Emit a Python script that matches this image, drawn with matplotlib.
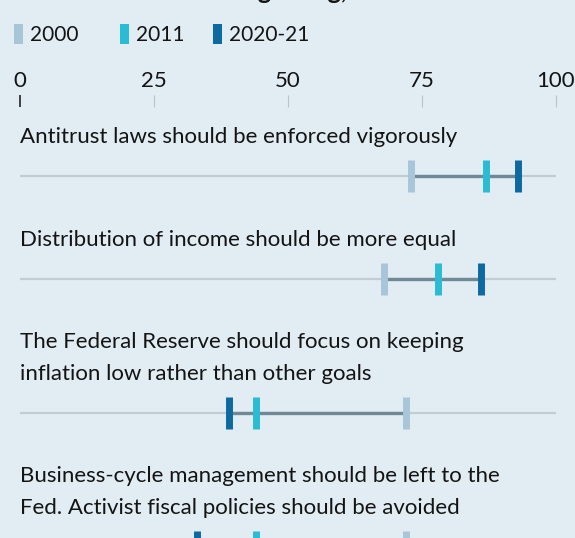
import matplotlib.pyplot as plt
from matplotlib.patches import Rectangle

# data (% of economists agreeing)
statements = [
    "Antitrust laws should be enforced vigorously",
    "Distribution of income should be more equal",
    "The Federal Reserve should focus on keeping\ninflation low rather than other goals",
    "Business-cycle management should be left to the\nFed. Activist fiscal policies should be avoided",
]
years = ["2000", "2011", "2020-21"]
agree_2000 = [73, 68, 72, 72]
agree_2011 = [87, 78, 44, 44]
agree_2021 = [93, 86, 39, 33]
ticks = [0, 25, 50, 75, 100]

colors = ["#a9c6d9", "#2bbcd5", "#0e69a1"]
bg = "#e1ecf3"
txt = "#141414"

plt.rcParams['font.family'] = ['Lato', 'DejaVu Sans']

W, H = 575, 538
fig = plt.figure(figsize=(W / 100, H / 100), dpi=100, facecolor=bg)
ax = fig.add_axes([0, 0, 1, 1])
ax.set_facecolor(bg)
# x: data units (0 at 20px, 100 at 556px); y: pixels from top
x0, x100 = 20, 556
ppu = (x100 - x0) / 100
ax.set_xlim(-x0 / ppu, (W - x0) / ppu)
ax.set_ylim(H, 0)
ax.axis('off')

def fx(px):
    return px / W

def fy(py):
    return 1 - py / H

# cut-off title (only descenders visible): put the "g" of "agreeing" near x=258
title = "Economists agreeing, %"
renderer = fig.canvas.get_renderer()
probe = ax.text(0, 0, "Economists a", fontsize=18, fontweight='bold', transform=None)
pre_w = probe.get_window_extent(renderer).width
probe.remove()
ax.text(fx(258 - pre_w), fy(-1), title, transform=ax.transAxes, fontsize=18,
        fontweight='bold', color=txt, va='baseline', ha='left')

# legend
leg_x = [14, 120, 213]
for i, y in enumerate(years):
    ax.add_patch(Rectangle((fx(leg_x[i]), fy(44)), fx(9), 20 / H, transform=ax.transAxes,
                           color=colors[i], lw=0))
    ax.text(fx(leg_x[i] + 16), fy(41), y, transform=ax.transAxes, fontsize=15,
            color=txt, va='baseline', ha='left')

# scale
for t in ticks:
    ax.text(t, 87, str(t), fontsize=16, color=txt, ha='center', va='baseline')
    ax.vlines(t, 95, 107, color="#333333" if t == 0 else "#b9c4cb", lw=1.3 if t == 0 else 0.8)

# rows
row_y = [176, 279, 413, 547]
line_gap = 32
for i, s in enumerate(statements):
    y = row_y[i]
    lines = s.split("\n")
    for j, ln in enumerate(lines):
        ax.text(0, y - 33 - line_gap * (len(lines) - 1 - j), ln, fontsize=16, color=txt,
                ha='left', va='baseline')
    ax.hlines(y, 0, 100, color="#c2ccd2", lw=1.6, zorder=1)
    vals = [agree_2000[i], agree_2011[i], agree_2021[i]]
    ax.hlines(y, min(vals), max(vals), color="#6f8997", lw=2.4, zorder=2)
    for k, v in enumerate(vals):
        ax.vlines(v, y - 16, y + 16, color=colors[k], lw=5, zorder=3)

fig.savefig("out.png", dpi=100, facecolor=bg)
